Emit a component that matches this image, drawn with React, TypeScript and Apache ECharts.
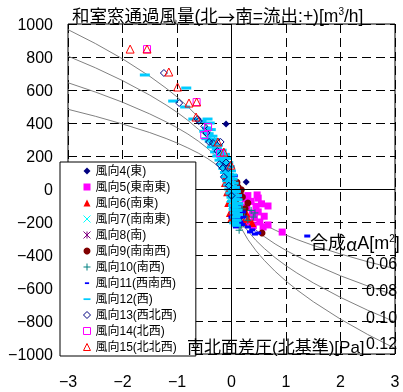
import React, { useEffect, useRef } from 'react';
import * as echarts from 'echarts';

const FONT = "'Liberation Sans', Arial, 'Noto Sans CJK JP', sans-serif";
const CJK = "'Noto Sans CJK JP', sans-serif";

const seriesNames = [
  '風向4(東)', '風向5(東南東)', '風向6(南東)', '風向7(南南東)', '風向8(南)', '風向9(南南西)',
  '風向10(南西)', '風向11(西南西)', '風向12(西)', '風向13(西北西)', '風向14(北西)', '風向15(北北西)',
];

const dir4 = [[-0.10, 394], [0.27, 42], [0.05, -60], [0.10, -140], [0.00, -20], [0.15, -180]];
const dir5 = [[0.47, -36], [0.49, -55], [0.30, -40], [0.67, -103], [0.55, -90], [0.36, -75], [0.49, -139], [0.38, -145], [0.28, -110], [0.52, -200], [0.67, -218], [0.93, -261], [0.42, -175], [0.60, -165], [0.33, -200], [0.25, -60], [0.45, -105], [0.22, -150], [0.58, -230], [0.40, -222]];
const dir6 = [[-0.12, 36], [-0.06, -85], [-0.03, -145], [0.38, -206], [0.30, -180], [0.00, -175], [-0.08, -20], [0.22, -200], [-0.10, 80], [0.28, -150]];
const dir7 = [[0.00, -100], [0.05, -150], [0.10, -160], [-0.04, -60], [0.15, -110], [0.08, -200], [-0.02, -20]];
const dir8 = [[0.12, -206], [0.06, -190], [0.00, -160], [0.18, -215], [0.04, -140]];
const dir9 = [[0.12, 12], [0.16, -24], [0.14, -50], [0.20, -48], [0.13, -110], [0.30, -85], [0.56, -267], [0.22, -150], [0.08, -70], [0.10, 40], [0.18, -5], [0.25, -120], [0.06, -130]];
const dir10 = [[0.43, -145], [0.40, -170], [0.16, -230], [0.30, -190], [0.24, -165], [0.10, -205], [0.02, -180], [0.20, -120], [0.36, -130], [0.08, -150], [0.14, -250]];
const dir11 = [[0.02, -120], [0.08, -150], [0.12, -180], [0.16, -200], [0.20, -215], [0.30, -230], [0.38, -248], [0.49, -267], [0.34, -260], [0.43, -273], [1.39, -285], [0.10, -100], [0.14, -40], [0.10, 10], [0.12, -60], [0.05, -200], [0.21, -139], [0.00, -170], [0.22, -170], [0.08, -230], [-0.02, 50], [0.04, -30], [0.16, -90], [-0.08, 120], [0.06, 80]];
const dir12 = [[-1.59, 691], [-0.83, 612], [-1.07, 533], [-0.85, 497], [-0.70, 424], [-0.44, 424], [-0.55, 410], [-0.40, 400], [-0.45, 370], [-0.38, 360], [-0.50, 350], [-0.42, 335], [-0.35, 320], [-0.46, 305], [-0.30, 300], [-0.40, 290], [-0.33, 275], [-0.25, 265], [-0.36, 255], [-0.27, 245], [-0.18, 235], [-0.30, 225], [-0.20, 215], [-0.12, 210], [-0.26, 200], [-0.17, 190], [-0.10, 185], [-0.22, 175], [-0.13, 165], [-0.06, 160], [-0.18, 150], [-0.10, 140], [-0.03, 135], [-0.15, 125], [-0.08, 115], [-0.01, 110], [-0.12, 100], [-0.05, 90], [0.01, 85], [-0.10, 75], [-0.03, 65], [0.02, 60], [-0.08, 50], [-0.01, 40], [0.04, 35], [-0.06, 25], [0.01, 15], [0.06, 10], [-0.04, 0], [0.03, -10], [0.08, -15], [-0.02, -25], [0.05, -35], [0.10, -40], [0.00, -50], [0.06, -60], [0.11, -65], [0.01, -75], [0.08, -85], [0.12, -90], [0.03, -100], [0.09, -110], [0.04, -125], [0.11, -130], [0.06, -145], [0.12, -155], [0.07, -170], [0.09, -190], [0.05, -205], [0.08, -220]];
const dir13 = [[-1.24, 703], [-0.96, 521], [-0.60, 412], [-0.62, 424], [-0.41, 285], [-0.34, 279], [-0.20, 285], [-0.16, 127], [-0.06, 127], [-0.14, 73], [-0.22, 150], [-0.10, 160], [-0.46, 340], [-0.26, 230], [-0.50, 380], [0.00, -40], [-0.05, 20]];
const dir14 = [[-1.55, 848], [-0.64, 527], [-0.43, 376], [-0.50, 327], [-0.21, 218]];
const dir15 = [[-1.86, 848], [-1.55, 848], [-1.15, 709], [-0.99, 618], [-0.78, 521], [-0.64, 527], [-0.65, 436], [-0.25, 285], [-0.14, 224], [-0.01, 145]];

const curveX = [-3, -2.5, -2, -1.5, -1.2, -1, -0.8, -0.6, -0.45, -0.3, -0.2, -0.12, -0.06, -0.02, 0, 0.02, 0.06, 0.12, 0.2, 0.3, 0.45, 0.6, 0.8, 1, 1.2, 1.5, 2, 2.5, 3];
const curve006 = [483, 441, 394, 342, 306, 279, 249, 216, 187, 153, 125, 97, 68, 39, 0, -39, -68, -97, -125, -153, -187, -216, -249, -279, -306, -342, -394, -441, -483];
const curve008 = [644, 588, 526, 455, 407, 372, 333, 288, 249, 204, 166, 129, 91, 53, 0, -53, -91, -129, -166, -204, -249, -288, -333, -372, -407, -455, -526, -588, -644];
const curve010 = [805, 735, 657, 569, 509, 465, 416, 360, 312, 255, 208, 161, 114, 66, 0, -66, -114, -161, -208, -255, -312, -360, -416, -465, -509, -569, -657, -735, -805];
const curve012 = [966, 882, 789, 683, 611, 558, 499, 432, 374, 306, 249, 193, 137, 79, 0, -79, -137, -193, -249, -306, -374, -432, -499, -558, -611, -683, -789, -882, -966];
const curveLabels = ['0.06', '0.08', '0.10', '0.12'];

const X_PATH = 'path://M0 0L10 10M10 0L0 10';
const AST_PATH = 'path://M0 0L10 10M10 0L0 10M5 0L5 10';
const PLUS_PATH = 'path://M5 0L5 10M0 5L10 5';
const LONG_DASH_ICON = 'path://M0 0M0 4L10 4L10 6.5L0 6.5ZM10 10';
const SHORT_DASH_ICON = 'path://M0 0M2 4L8 4L8 6.5L2 6.5ZM10 10';

type Def = { data: number[][]; symbol: string; size: number | number[]; color: string; kind: 'fill' | 'hollow' | 'stroke'; icon?: string };

const defs: Def[] = [
  { data: dir4, symbol: 'diamond', size: 7, color: '#000080', kind: 'fill' },
  { data: dir5, symbol: 'rect', size: 7, color: '#FF00FF', kind: 'fill' },
  { data: dir6, symbol: 'triangle', size: 8, color: '#FF0000', kind: 'fill' },
  { data: dir7, symbol: X_PATH, size: 6, color: '#00FFFF', kind: 'stroke' },
  { data: dir8, symbol: AST_PATH, size: 6, color: '#800080', kind: 'stroke' },
  { data: dir9, symbol: 'circle', size: 7, color: '#800000', kind: 'fill' },
  { data: dir10, symbol: PLUS_PATH, size: 7, color: '#008080', kind: 'stroke' },
  { data: dir11, symbol: 'rect', size: [6, 3], color: '#0000FF', kind: 'fill', icon: SHORT_DASH_ICON },
  { data: dir12, symbol: 'rect', size: [10, 3], color: '#00CCFF', kind: 'fill', icon: LONG_DASH_ICON },
  { data: dir13, symbol: 'diamond', size: 7, color: '#000080', kind: 'hollow' },
  { data: dir14, symbol: 'rect', size: 7, color: '#FF00FF', kind: 'hollow' },
  { data: dir15, symbol: 'triangle', size: 8, color: '#FF0000', kind: 'hollow' },
];

function styleFor(d: Def) {
  if (d.kind === 'fill') return { color: d.color, borderColor: d.color, borderWidth: 0, opacity: 1 };
  if (d.kind === 'hollow') return { color: 'rgba(0,0,0,0)', borderColor: d.color, borderWidth: 1, opacity: 1 };
  return { color: d.color, borderColor: d.color, borderWidth: 1, opacity: 1 };
}

const minus = (v: number) => (v < 0 ? '\u2212' + Math.abs(v) : String(v));

export default function App() {
  const ref = useRef<HTMLDivElement>(null);
  useEffect(() => {
    if (!ref.current) return;
    const chart = echarts.init(ref.current, undefined, { renderer: 'svg' });
    const curves = [curve006, curve008, curve010, curve012];
    const curveSeries = curves.map((c, i) => ({
      type: 'line',
      data: curveX.map((x, j) => [x, c[j]]),
      showSymbol: false,
      symbol: 'none',
      lineStyle: { color: '#808080', width: 1 },
      silent: true,
      z: 1,
      markLine: i === 0 ? {
        silent: true,
        symbol: ['none', 'none'],
        label: { show: false },
        lineStyle: { color: '#000', type: 'solid', width: 1 },
        data: [{ xAxis: 0 }, { yAxis: 0 }],
      } : undefined,
    }));
    const scatterSeries = defs.map((d, i) => ({
      type: 'scatter',
      name: seriesNames[i],
      data: d.data,
      symbol: d.symbol,
      symbolSize: d.size,
      itemStyle: styleFor(d),
      z: 3 + i * 0.01,
    }));
    const legendData = defs.map((d, i) => ({
      name: seriesNames[i],
      icon: d.icon || d.symbol,
      itemStyle: styleFor(d),
    }));
    const textStyleBase = { fontFamily: FONT, fill: '#000' };
    const graphic: any[] = [
      {
        type: 'text', x: 72, y: 16, z: 100,
        style: {
          text: '{a|和室窓通過風量(北}{c|→}{a|南=流出:+)[m}{s|3}{a|/h]}',
          textVerticalAlign: 'middle', verticalAlign: 'middle',
          rich: {
            a: { fontSize: 17.5, fontFamily: FONT, fill: '#000', lineHeight: 19 },
            c: { fontSize: 17.5, fontFamily: CJK, fill: '#000', lineHeight: 19 },
            s: { fontSize: 10, fontFamily: FONT, fill: '#000', verticalAlign: 'top', lineHeight: 10 },
          },
        },
      },
      {
        type: 'text', x: 187, y: 347, z: 100,
        style: { ...textStyleBase, text: '南北面差圧(北基準)[Pa]', fontSize: 17, textVerticalAlign: 'middle', verticalAlign: 'middle' },
      },
      {
        type: 'text', x: 310, y: 243, z: 100,
        style: {
          text: '{a|合成}{g|\u03b1}{a|A[m}{s|2}{a|]}',
          textVerticalAlign: 'middle', verticalAlign: 'middle',
          rich: {
            a: { fontSize: 18, fontFamily: FONT, fill: '#000', lineHeight: 19 },
            g: { fontSize: 18, fontFamily: CJK, fill: '#000', lineHeight: 19 },
            s: { fontSize: 10, fontFamily: FONT, fill: '#000', verticalAlign: 'top', lineHeight: 10 },
          },
        },
      },
      ...curveLabels.map((t, i) => ({
        type: 'text', x: 366, y: [263, 290, 317, 343][i], z: 100,
        style: { ...textStyleBase, text: t, fontSize: 16, textVerticalAlign: 'middle', verticalAlign: 'middle' },
      })),
    ];
    chart.setOption({
      animation: false,
      textStyle: { fontFamily: FONT },
      grid: { left: 68, top: 24, width: 327, height: 330, show: true, borderColor: '#000', borderWidth: 1, backgroundColor: 'transparent' },
      xAxis: {
        type: 'value', min: -3, max: 3, interval: 1,
        axisLine: { show: false }, axisTick: { show: false },
        splitLine: { show: true, lineStyle: { color: '#000', type: [9, 5], width: 1 } },
        axisLabel: { fontSize: 16, color: '#000', margin: 19, fontFamily: FONT, formatter: (v: number) => minus(v) },
      },
      yAxis: {
        type: 'value', min: -1000, max: 1000, interval: 200,
        axisLine: { show: false }, axisTick: { show: false },
        splitLine: { show: true, lineStyle: { color: '#000', type: [9, 5], width: 1 } },
        axisLabel: { fontSize: 16, color: '#000', margin: 15, fontFamily: FONT, formatter: (v: number) => minus(v) },
      },
      legend: {
        orient: 'vertical', left: 60, top: 162,
        itemWidth: 7, itemHeight: 7, itemGap: 4,
        padding: [3, 19, 3, 23],
        backgroundColor: '#fff', borderColor: '#000', borderWidth: 1, borderRadius: 0,
        textStyle: { fontSize: 12, color: '#000', fontFamily: FONT, lineHeight: 12 },
        selectedMode: false,
        data: legendData,
        z: 10,
      },
      series: [...curveSeries, ...scatterSeries],
      graphic,
    });
    return () => chart.dispose();
  }, []);
  return <div ref={ref} style={{ position: 'fixed', left: 0, top: 0, width: 403, height: 392 }} />;
}
